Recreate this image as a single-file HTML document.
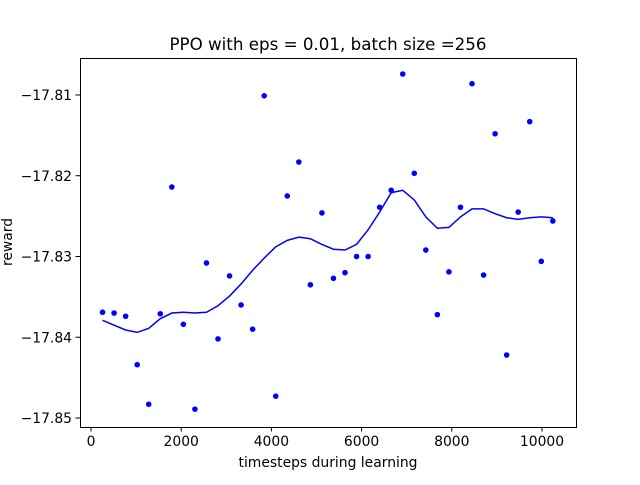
<!DOCTYPE html>
<html><head><meta charset="utf-8"><style>
html,body{margin:0;padding:0;background:#fff;}
svg text{font-family:"DejaVu Sans","Liberation Sans",sans-serif;fill:#000;}
</style></head><body>
<svg id="chart" width="640" height="480" viewBox="0 0 640 480" xmlns="http://www.w3.org/2000/svg">
<rect width="640" height="480" fill="#fff"/>
<text x="328" y="50" font-size="16.7" text-anchor="middle">PPO with eps = 0.01, batch size =256</text>
<text x="328" y="467" font-size="13.9" text-anchor="middle">timesteps during learning</text>
<text x="0" y="0" font-size="13.9" text-anchor="middle" transform="translate(12,242) rotate(-90)">reward</text>
<g id="marks"></g>
<rect x="80.5" y="58.5" width="496" height="369" fill="none" stroke="#000" stroke-width="1"/>
</svg>
<script>
const timesteps = [256,512,768,1024,1280,1536,1792,2048,2304,2560,2816,3072,3328,3584,3840,4096,4352,4608,4864,5120,5376,5632,5888,6144,6400,6656,6912,7168,7424,7680,7936,8192,8448,8704,8960,9216,9472,9728,9984,10240];
const rewards = [-17.8369,-17.8370,-17.8374,-17.8434,-17.8483,-17.8371,-17.8214,-17.8384,-17.8489,-17.8308,-17.8402,-17.8324,-17.8360,-17.8390,-17.8101,-17.8473,-17.8225,-17.8183,-17.8335,-17.8246,-17.8327,-17.8320,-17.8300,-17.8300,-17.8239,-17.8218,-17.8074,-17.8197,-17.8292,-17.8372,-17.8319,-17.8239,-17.8086,-17.8323,-17.8148,-17.8422,-17.8245,-17.8133,-17.8306,-17.8256];
const smoothed = [-17.8379,-17.8385,-17.8391,-17.8394,-17.8389,-17.8377,-17.8370,-17.8369,-17.8370,-17.8369,-17.8361,-17.8349,-17.8334,-17.8317,-17.8302,-17.8288,-17.8280,-17.8276,-17.8278,-17.8285,-17.8291,-17.8292,-17.8285,-17.8267,-17.8245,-17.8221,-17.8218,-17.8230,-17.8251,-17.8265,-17.8264,-17.8251,-17.8241,-17.8241,-17.8247,-17.8252,-17.8254,-17.8252,-17.8251,-17.8252];
const xTicks = [0,2000,4000,6000,8000,10000];
const yTicks = [-17.85,-17.84,-17.83,-17.82,-17.81];
const yTickLabels = ["\u221217.85","\u221217.84","\u221217.83","\u221217.82","\u221217.81"];

function xPx(v){return 91 + v*0.0451;}
function yPx(v){return 418 - (v + 17.85)*8075;}

const NS="http://www.w3.org/2000/svg";
const g=document.getElementById('marks');
function mk(tag,attrs){const e=document.createElementNS(NS,tag);for(const k in attrs)e.setAttribute(k,attrs[k]);g.appendChild(e);return e;}

xTicks.forEach((t)=>{
  const x=xPx(t);
  const l=mk('line',{x1:x,x2:x,y1:427,y2:431.5,stroke:'#000','stroke-width':1});
  
  
  const tx=mk('text',{x:x,y:446,'font-size':13.9,'text-anchor':'middle'});
  tx.textContent=String(t);
  
  
});
yTicks.forEach((t,i)=>{
  const y=yPx(t);
  const l=mk('line',{x1:75.5,x2:80,y1:y,y2:y,stroke:'#000','stroke-width':1});
  
  
  const tx=mk('text',{x:72,y:y+5,'font-size':13.9,'text-anchor':'end'});
  tx.textContent=yTickLabels[i];
  
  
});
const pts=smoothed.map((v,i)=>xPx(timesteps[i]).toFixed(2)+','+yPx(v).toFixed(2)).join(' ');
const line=mk('polyline',{points:pts,fill:'none',stroke:'#0000ff','stroke-width':1.5});


rewards.forEach((v,i)=>{
  const c=mk('circle',{cx:xPx(timesteps[i]),cy:yPx(v),r:2.8,fill:'#0000ff'});
  
  
});
</script>
</body></html>
